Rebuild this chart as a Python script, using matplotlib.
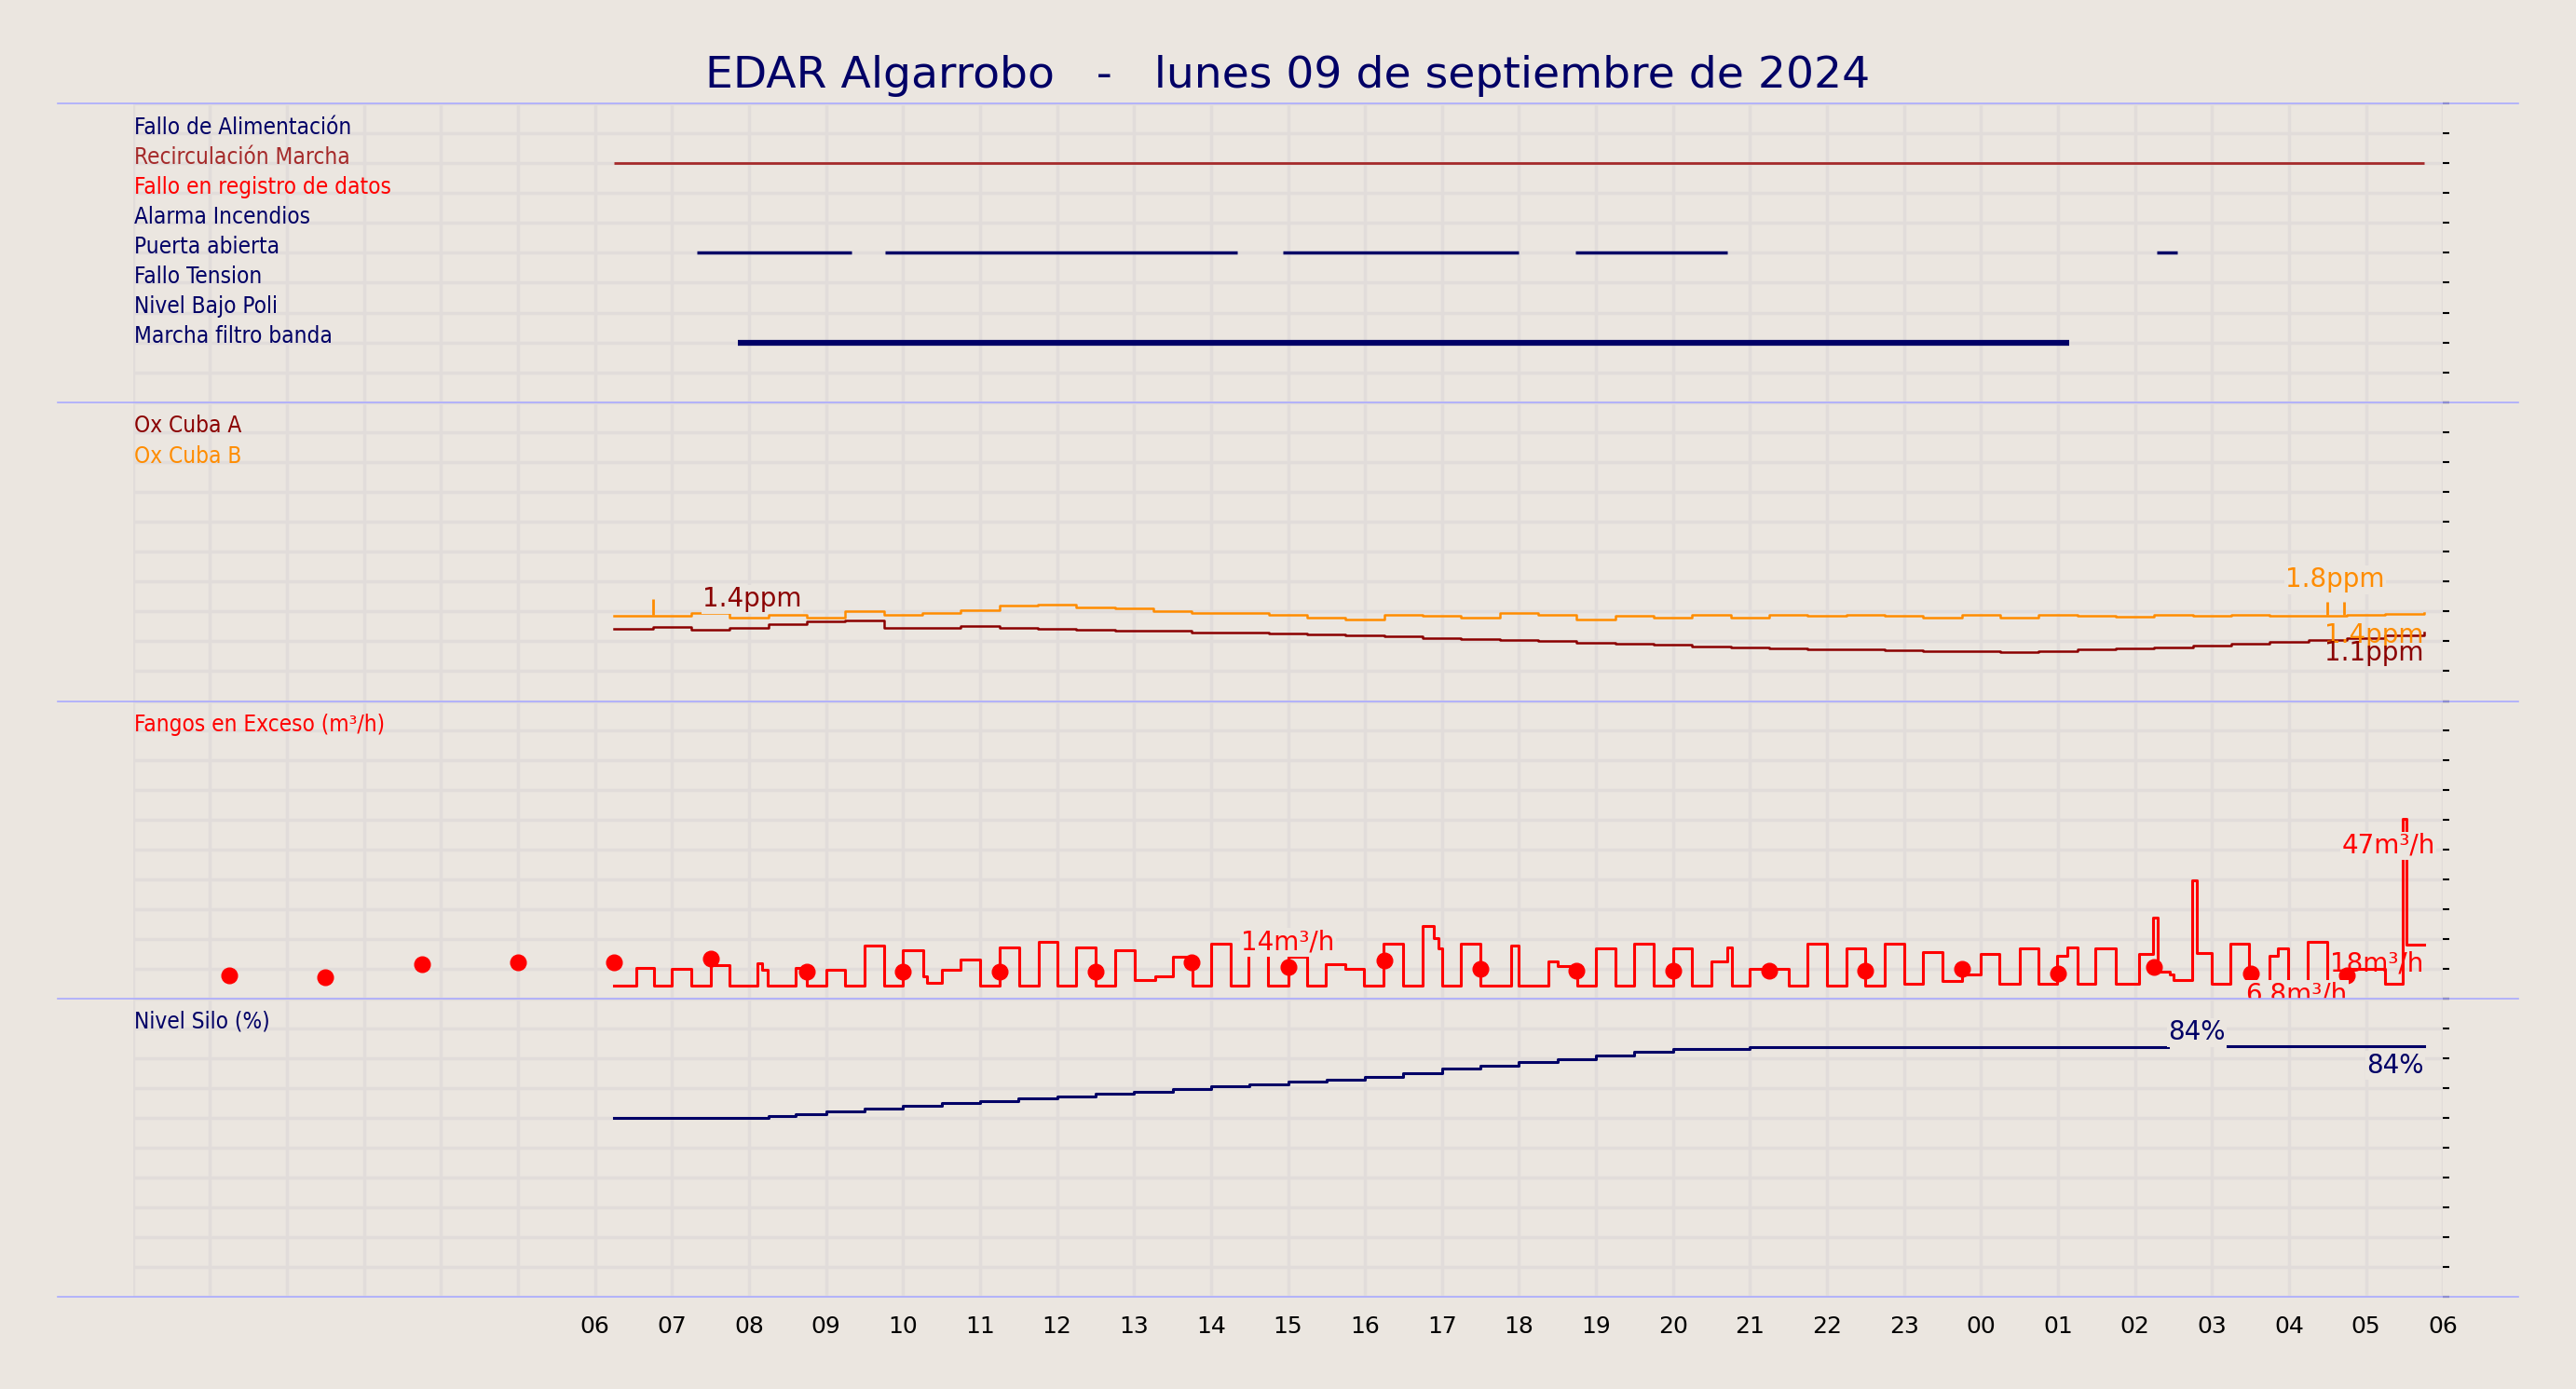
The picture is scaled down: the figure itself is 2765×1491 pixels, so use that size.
import numpy as np
import matplotlib
matplotlib.use("Agg")
import matplotlib.pyplot as plt
from matplotlib.lines import Line2D

# ---------------- data ----------------
title = "EDAR Algarrobo   -   lunes 09 de septiembre de 2024"
hour_labels = ["06","07","08","09","10","11","12","13","14","15","16","17","18","19",
               "20","21","22","23","00","01","02","03","04","05","06"]

status_labels = ["Fallo de Alimentación", "Recirculación Marcha", "Fallo en registro de datos",
                 "Alarma Incendios", "Puerta abierta", "Fallo Tension", "Nivel Bajo Poli",
                 "Marcha filtro banda"]
status_colors = ["#000066", "#a52a2a", "#ff0000", "#000066", "#000066", "#000066", "#000066", "#000066"]
# on-intervals in hours after 06:00
recirc_on = [(0.25, 23.75)]
puerta_on = [(1.32, 3.33), (3.77, 8.34), (8.93, 12.0), (12.73, 14.71), (20.28, 20.55)]
filtro_on = [(1.85, 19.15)]

# Oxygen (ppm), 30-min steps from 06:15
ox_a = [1.21,1.24,1.20,1.22,1.28,1.33,1.35,1.22,1.23,1.25,1.22,1.21,1.20,1.18,1.17,1.15,
        1.14,1.13,1.12,1.10,1.08,1.06,1.04,1.02,1.00,0.98,0.96,0.94,0.92,0.90,0.88,0.87,
        0.86,0.85,0.84,0.83,0.82,0.84,0.86,0.88,0.90,0.93,0.96,0.99,1.02,1.06,1.10,1.14]
ox_b = [1.43,1.42,1.48,1.40,1.45,1.40,1.50,1.45,1.47,1.52,1.60,1.62,1.57,1.55,1.50,1.47,
        1.48,1.45,1.40,1.37,1.45,1.42,1.40,1.47,1.44,1.37,1.42,1.40,1.44,1.40,1.45,1.43,
        1.44,1.42,1.40,1.44,1.40,1.45,1.43,1.41,1.44,1.42,1.44,1.42,1.43,1.44,1.46,1.47]
ox_b_spikes_t = [0.75, 22.5, 22.72]
ox_b_spikes_v = [1.70, 1.66, 1.66]

# Fangos en exceso (m3/h): change points (hour after 06:00) and value held until next point
fangos_t = [0.24,0.54,0.77,1.0,1.25,1.51,1.74,2.11,2.17,2.24,2.61,2.75,3.0,3.25,3.5,3.75,
            4.0,4.26,4.31,4.51,4.75,5.0,5.25,5.51,5.76,6.01,6.25,6.5,6.76,7.01,7.28,7.51,
            7.76,8.0,8.26,8.49,8.74,9.0,9.25,9.49,9.74,9.99,10.24,10.5,10.75,10.89,10.96,11.0,
            11.25,11.5,11.9,12.0,12.38,12.5,12.76,13.0,13.25,13.5,13.75,14.0,14.25,14.5,14.7,14.76,
            15.0,15.5,15.75,16.0,16.25,16.5,16.75,17.0,17.25,17.5,17.75,18.0,18.24,18.5,18.75,18.99,
            19.12,19.25,19.49,19.75,20.05,20.24,20.29,20.45,20.5,20.74,20.8,21.0,21.24,21.48,21.75,21.86,
            21.99,22.24,22.5,22.74,23.25,23.48,23.53,23.76]
fangos_v = [3.4,8.0,3.4,7.8,3.4,8.6,3.4,9.3,7.4,3.4,8.0,3.4,7.4,3.4,13.9,3.4,
            12.6,5.8,4.0,7.4,10.2,3.4,13.3,3.4,14.7,3.4,13.3,3.4,12.6,4.9,5.8,11.0,
            3.4,14.3,3.4,12.0,3.4,11.0,3.4,9.0,7.6,3.4,14.3,3.4,19.0,15.8,13.1,3.4,
            14.3,3.4,13.9,3.4,9.6,8.5,3.4,13.1,3.4,14.3,3.2,13.1,3.4,9.7,13.3,3.4,
            7.8,3.4,14.3,3.4,13.1,3.4,14.4,3.7,12.2,4.5,6.2,11.7,3.7,13.2,3.7,11.2,
            13.4,3.7,13.2,3.7,11.6,21.1,7.1,6.3,4.7,30.9,11.8,3.7,14.4,3.7,11.2,13.2,
            3.7,14.7,3.7,7.6,3.7,47.0,14.1,14.1]
dots_t = [-4.75 + 1.25 * k for k in range(23)]
dots_v = [6.0,5.6,9.0,9.4,9.4,10.3,6.9,6.9,6.9,6.9,9.4,8.1,9.9,7.7,7.3,7.3,7.3,7.3,7.7,6.4,8.1,6.4,6.0]

# Nivel silo (%), change points
silo_t = [0.25,2.25,2.6,3.0,3.5,4.0,4.5,5.0,5.5,6.0,6.5,7.0,7.5,8.0,8.5,9.0,9.5,10.0,
          10.5,11.0,11.5,12.0,12.5,13.0,13.5,14.0,15.0,20.43,21.2,22.0,23.75]
silo_v = [60,60.5,61.2,62,63,64,64.8,65.6,66.4,67.2,68,68.8,69.6,70.4,71.2,72,72.8,73.6,
          75,76.5,77.5,78.6,79.6,80.8,82,83,83.5,84,84,84,84]

# ---------------- style ----------------
BG = "#ebe6e0"
GRID = "#e1dcda"
SEP = "#aaaaff"
plt.rcParams['font.family'] = ['DejaVu Sans']

fig = plt.figure(figsize=(27.65, 14.91), dpi=100, facecolor=BG)
L, R = 81/1568, 1487/1568
tops = [63, 245, 427, 608, 790]
H = 846.0
axes = []
ylims = [(0, 10), (0, 5), (0, 78), (0, 100)]
for i in range(4):
    y0 = 1 - tops[i+1]/H
    y1 = 1 - tops[i]/H
    ax = fig.add_axes([L, y0, R-L, y1-y0])
    ax.set_facecolor(BG)
    ax.set_xlim(-6, 24)
    ax.set_ylim(*ylims[i])
    ax.set_xticks(np.arange(-6, 25, 1))
    ax.set_yticks(np.linspace(ylims[i][0], ylims[i][1], 11))
    ax.grid(True, color=GRID, lw=2.5, zorder=0)
    for s in ax.spines.values():
        s.set_visible(False)
    ax.yaxis.tick_right()
    ax.tick_params(axis='y', length=5, width=1.5, color='black', labelright=False, direction='out')
    ax.tick_params(axis='x', length=0, labelbottom=False)
    ax.axvline(0, color=SEP, lw=1.2, zorder=1)
    axes.append(ax)
    fig.add_artist(Line2D([35/1568, 1533/1568], [y1, y1], color=SEP, lw=1.2))
fig.add_artist(Line2D([35/1568, 1533/1568], [1-790/H, 1-790/H], color=SEP, lw=1.2))

lab_kw = dict(fontsize=17.5, fontstretch='condensed', ha='left', va='center')
val_kw = dict(fontsize=20, va='center',
              bbox=dict(facecolor=BG, edgecolor='none', pad=1.0))

# Panel 1: status
ax = axes[0]
for i, (lab, c) in enumerate(zip(status_labels, status_colors)):
    ax.text(-5.98, 9.2 - i, lab, color=c, **lab_kw)
for a, b in recirc_on:
    ax.hlines(8, a, b, color="#a52a2a", lw=2)
for a, b in puerta_on:
    ax.hlines(5, a, b, color="#000066", lw=2.5)
for a, b in filtro_on:
    ax.hlines(2, a, b, color="#000066", lw=4.5)

# Panel 2: oxygen
ax = axes[1]
ax.text(-5.98, 4.6, "Ox Cuba A", color="#8b0000", **lab_kw)
ax.text(-5.98, 4.1, "Ox Cuba B", color="#ff8c00", **lab_kw)
tox = 0.25 + 0.5 * np.arange(len(ox_a))
ax.step(np.append(tox, 23.75), ox_a + [ox_a[-1]], where='post', color="#8b0000", lw=1.8)
ax.step(np.append(tox, 23.75), ox_b + [ox_b[-1]], where='post', color="#ff8c00", lw=1.8)
ax.vlines(ox_b_spikes_t, 1.44, ox_b_spikes_v, color="#ff8c00", lw=2)
ax.text(1.4, 1.7, "1.4ppm", color="#8b0000", ha='left', **val_kw)
ax.text(22.6, 2.03, "1.8ppm", color="#ff8c00", ha='center', **val_kw)
ax.text(23.75, 1.1, "1.4ppm", color="#ff8c00", ha='right', fontsize=20, va='center')
ax.text(23.75, 0.8, "1.1ppm", color="#8b0000", ha='right', fontsize=20, va='center')

# Panel 3: fangos
ax = axes[2]
ax.text(-5.98, 71.8, "Fangos en Exceso (m³/h)", color="#ff0000", **lab_kw)
ax.step(fangos_t, fangos_v, where='post', color="#ff0000", lw=2.2)
ax.plot(dots_t, dots_v, 'o', color="#ff0000", ms=12)
ax.text(9.0, 14.6, "14m³/h", color="#ff0000", ha='center', **val_kw)
ax.text(23.9, 40, "47m³/h", color="#ff0000", ha='right', **val_kw)
ax.text(23.75, 9, "18m³/h", color="#ff0000", ha='right', fontsize=20, va='center')
ax.text(22.1, 0.9, "6.8m³/h", color="#ff0000", ha='center', **val_kw)

# Panel 4: silo
ax = axes[3]
ax.text(-5.98, 92.2, "Nivel Silo (%)", color="#000066", **lab_kw)
sv = np.array(silo_v, dtype=float)
st = np.array(silo_t)
sv[(st >= 20.43) & (st < 21.2)] = np.nan
ax.step(st, sv, where='post', color="#000066", lw=2.2)
ax.text(20.8, 88.5, "84%", color="#000066", ha='center', **val_kw)
ax.text(23.75, 77.5, "84%", color="#000066", ha='right', **val_kw)
ax.tick_params(axis='x', labelbottom=True, labelsize=18, pad=14)
ax.set_xticklabels([""] * 6 + hour_labels)

fig.suptitle(title, x=0.5, y=1 - 46/H, va='center', fontsize=34, color="#000066")
fig.savefig("out.png", dpi=100, facecolor=BG)
